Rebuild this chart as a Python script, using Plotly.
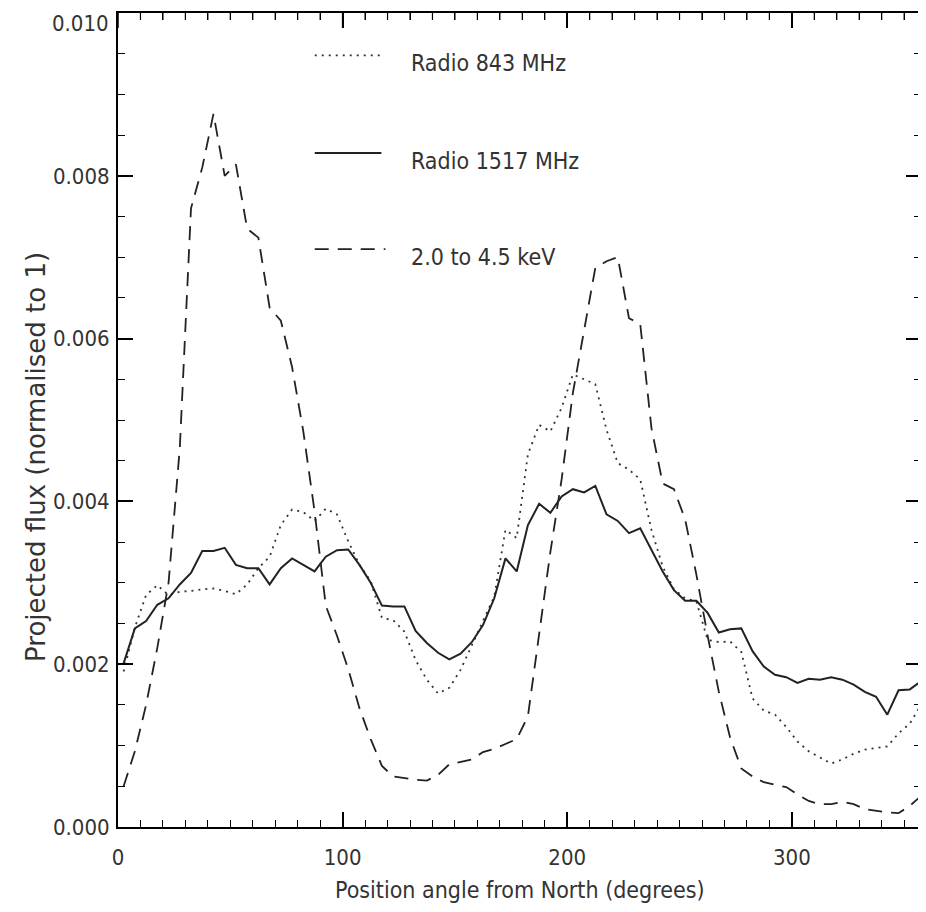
import plotly.graph_objects as go

# position angle of each bin (degrees from North)
angle = [2.5, 7.5, 12.5, 17.5, 22.5, 27.5, 32.5, 37.5, 42.5, 47.5,
         52.5, 57.5, 62.5, 67.5, 72.5, 77.5, 82.5, 87.5, 92.5, 97.5,
         102.5, 107.5, 112.5, 117.5, 122.5, 127.5, 132.5, 137.5, 142.5, 147.5,
         152.5, 157.5, 162.5, 167.5, 172.5, 177.5, 182.5, 187.5, 192.5, 197.5,
         202.5, 207.5, 212.5, 217.5, 222.5, 227.5, 232.5, 237.5, 242.5, 247.5,
         252.5, 257.5, 262.5, 267.5, 272.5, 277.5, 282.5, 287.5, 292.5, 297.5,
         302.5, 307.5, 312.5, 317.5, 322.5, 327.5, 332.5, 337.5, 342.5, 347.5,
         352.5, 357.5]

# projected flux, in units of 1e-3
radio_843 = [1.91, 2.45, 2.85, 2.97, 2.85, 2.89, 2.90, 2.92, 2.93, 2.90,
             2.86, 2.98, 3.18, 3.32, 3.71, 3.90, 3.87, 3.76, 3.91, 3.84,
             3.51, 3.22, 3.02, 2.57, 2.54, 2.40, 2.05, 1.81, 1.64, 1.71,
             1.93, 2.24, 2.53, 2.83, 3.65, 3.55, 4.58, 4.94, 4.86, 5.15,
             5.56, 5.50, 5.44, 4.88, 4.47, 4.39, 4.27, 3.65, 3.20, 2.92,
             2.81, 2.77, 2.30, 2.27, 2.28, 2.15, 1.58, 1.43, 1.38, 1.23,
             1.05, 0.93, 0.85, 0.78, 0.83, 0.90, 0.95, 0.97, 0.99, 1.15,
             1.27, 1.50]

radio_1517 = [2.01, 2.44, 2.53, 2.73, 2.81, 2.98, 3.12, 3.39, 3.39, 3.43,
              3.22, 3.18, 3.18, 2.98, 3.18, 3.30, 3.22, 3.14, 3.32, 3.40,
              3.41, 3.22, 3.00, 2.72, 2.71, 2.71, 2.41, 2.26, 2.14, 2.06,
              2.13, 2.27, 2.48, 2.81, 3.30, 3.14, 3.71, 3.97, 3.86, 4.06,
              4.15, 4.11, 4.19, 3.84, 3.76, 3.61, 3.67, 3.41, 3.14, 2.91,
              2.78, 2.78, 2.63, 2.39, 2.43, 2.44, 2.16, 1.97, 1.87, 1.84,
              1.77, 1.82, 1.81, 1.84, 1.81, 1.75, 1.66, 1.60, 1.38, 1.68,
              1.69, 1.79]

xray = [0.50, 0.93, 1.50, 2.20, 3.00, 4.65, 7.60, 8.10, 8.76, 8.00,
        8.14, 7.35, 7.24, 6.38, 6.22, 5.65, 4.86, 3.88, 2.72, 2.35,
        1.94, 1.46, 1.08, 0.75, 0.62, 0.60, 0.58, 0.57, 0.64, 0.77,
        0.80, 0.83, 0.92, 0.96, 1.02, 1.08, 1.36, 2.38, 3.38, 4.27,
        5.33, 6.10, 6.87, 6.95, 7.00, 6.25, 6.18, 4.90, 4.22, 4.15,
        3.78, 3.10, 2.35, 1.66, 1.10, 0.72, 0.62, 0.55, 0.52, 0.49,
        0.40, 0.32, 0.28, 0.28, 0.31, 0.28, 0.22, 0.20, 0.18, 0.17,
        0.26, 0.38]

legend_labels = ["Radio 843 MHz", "Radio 1517 MHz", "2.0 to 4.5 keV"]
x_ticks = [0, 100, 200, 300]
y_ticks = [0.0, 0.002, 0.004, 0.006, 0.008, 0.010]
y_ticktext = ["0.000", "0.002", "0.004", "0.006", "0.008", "0.010"]

FONT = "DejaVu Sans Condensed, Liberation Sans Narrow, sans-serif"
INK = "#333333"
PLOT_H = 814  # plot-area height in px, used to size the top tick marks

series = [
    (radio_843, dict(color="#333333", width=1.8, dash="2px,5px")),
    (radio_1517, dict(color="#222222", width=2.0)),
    (xray, dict(color="#222222", width=1.8, dash="14px,9px")),
]

fig = go.Figure()
for vals, line in series:
    fig.add_trace(go.Scatter(x=angle, y=[v * 1e-3 for v in vals],
                             mode="lines", line=line, showlegend=False,
                             hoverinfo="skip"))
# empty traces so the top and right tick axes get drawn
fig.add_trace(go.Scatter(x=[None], y=[None], xaxis="x2", yaxis="y",
                         showlegend=False, hoverinfo="skip"))
fig.add_trace(go.Scatter(x=[None], y=[None], xaxis="x", yaxis="y2",
                         showlegend=False, hoverinfo="skip"))

# hand-drawn legend in the upper middle of the frame
leg_y = [0.948, 0.828, 0.710]
leg_x1 = [0.326, 0.328, 0.333]
for (vals, line), label, yy, x1 in zip(series, legend_labels, leg_y, leg_x1):
    fig.add_shape(type="line", xref="paper", yref="paper",
                  x0=0.245, x1=x1, y0=yy, y1=yy, line=line)
    fig.add_annotation(xref="paper", yref="paper", x=0.363, y=yy + 0.009,
                       text=label, showarrow=False, xanchor="left",
                       font=dict(family=FONT, size=23, color=INK))

# tick marks hanging from the top edge (same positions as the bottom axis)
for xv in range(0, 358, 10):
    major = xv in x_ticks
    fig.add_shape(type="line", xref="x", yref="paper", x0=xv, x1=xv,
                  y0=1, y1=1 - (15 if major else 7) / PLOT_H,
                  line=dict(color="black", width=1.5 if major else 1.2))

tick_style = dict(ticklen=15, tickwidth=1.5, tickcolor="black",
                  showgrid=False, zeroline=False, automargin=False)
xminor = dict(dtick=10, ticks="inside", ticklen=7, tickwidth=1.2,
              tickcolor="black", showgrid=False)
yminor = dict(dtick=0.0005, ticks="inside", ticklen=7, tickwidth=1.2,
              tickcolor="black", showgrid=False)

fig.update_layout(
    xaxis=dict(range=[0, 357.5], tickvals=x_ticks, minor=xminor,
               ticks="inside", showline=True, linecolor="black", linewidth=2,
               mirror=True, ticklabelstandoff=10,
               tickfont=dict(family=FONT, size=22, color=INK), **tick_style),
    # top label is written separately a little lower, as in the original
    yaxis=dict(range=[0, 0.010], tickvals=y_ticks,
               ticktext=y_ticktext[:-1] + [""], minor=yminor, ticks="inside",
               showline=True, linecolor="black", linewidth=2, mirror=True,
               ticklabelstandoff=2,
               tickfont=dict(family=FONT, size=22, color=INK), **tick_style),
    xaxis2=dict(overlaying="x", side="top", anchor="y", matches="x",
                tickvals=x_ticks, minor=xminor, ticks="inside",
                showticklabels=False, showline=False, **tick_style),
    yaxis2=dict(overlaying="y", side="right", anchor="free", position=1.0,
                range=[0, 0.010], tickvals=y_ticks, minor=yminor,
                ticks="inside", showticklabels=False, showline=False,
                **tick_style),
)

fig.add_annotation(xref="paper", yref="paper", x=-0.009, y=0.987,
                   text=y_ticktext[-1], showarrow=False,
                   xanchor="right", yanchor="middle",
                   font=dict(family=FONT, size=22, color=INK))
fig.add_annotation(xref="paper", yref="paper", x=0.5, y=-0.078,
                   text="Position angle from North (degrees)", showarrow=False,
                   yanchor="middle", font=dict(family=FONT, size=23, color=INK))
fig.add_annotation(xref="paper", yref="paper", x=-0.103, y=0.455,
                   text="Projected flux (normalised to 1)", showarrow=False,
                   textangle=-90, xanchor="center", yanchor="middle",
                   font=dict(family="DejaVu Sans, sans-serif", size=26, color=INK))

# the page body adds 8px around the plot, so the figure is trimmed by that much
fig.update_layout(
    width=918, height=896,
    margin=dict(l=110, r=5, t=5, b=77),
    plot_bgcolor="white", paper_bgcolor="white",
)

fig.write_html("out.html")
